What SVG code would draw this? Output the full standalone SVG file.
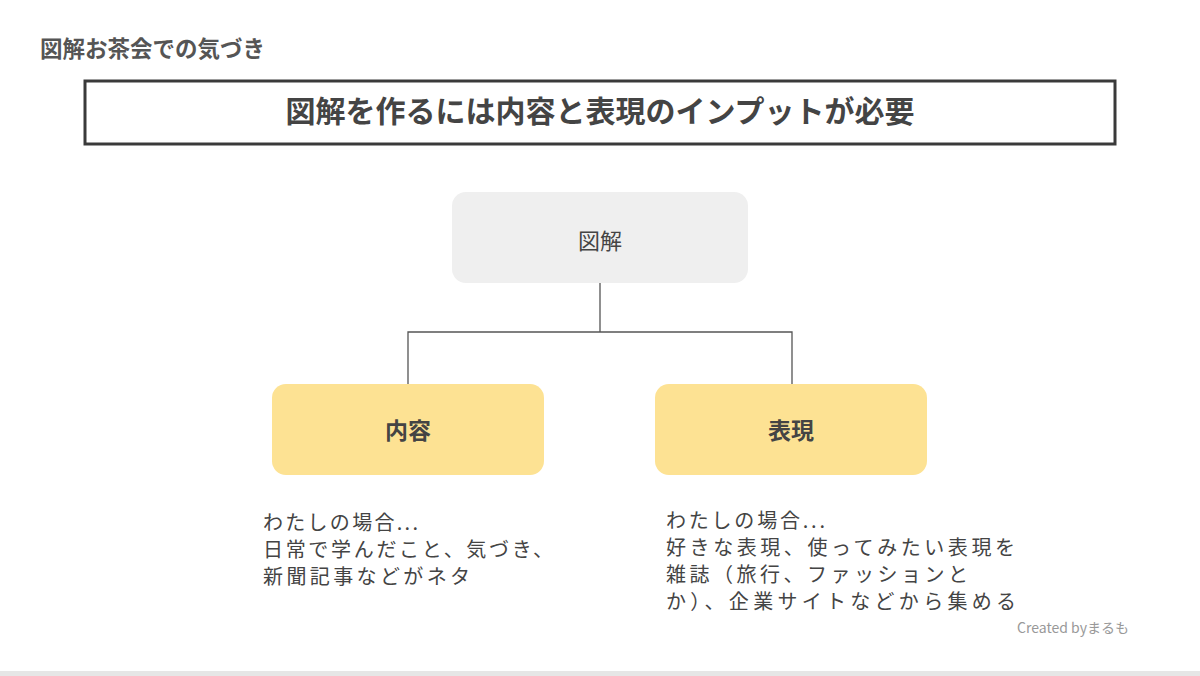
<svg xmlns="http://www.w3.org/2000/svg" width="1200" height="676" viewBox="0 0 1200 676">
<style>
text{font-family:"Noto Sans CJK JP","Noto Sans",sans-serif}
.b{font-weight:bold}
.body{font-size:20px;fill:#444}
.yl{fill:#fde293}
.conn{stroke:#555;stroke-width:1.3;fill:none}
</style>
<rect width="1200" height="676" fill="#fff"/>
<rect x="0" y="671" width="1200" height="5" fill="#e6e6e6"/>
<g id="title"><text x="40" y="57" class="b" font-size="22.5" fill="#555">図解お茶会での気づき</text></g>
<g id="header">
<rect x="85" y="81" width="1030" height="63" fill="#fff" stroke="#3a3a3a" stroke-width="3"/>
<text x="600" y="122" class="b" font-size="30" fill="#444" text-anchor="middle">図解を作るには内容と表現のインプットが必要</text>
</g>
<g id="connectors">
<path class="conn" d="M600 283V332M408 385V332H792V385"/>
</g>
<g id="node-zukai">
<rect x="452" y="192" width="296" height="91" rx="14" fill="#efefef"/>
<text x="600" y="249" font-size="22" fill="#444" text-anchor="middle">図解</text>
</g>
<g id="node-naiyou">
<rect x="272" y="384" width="272" height="91" rx="14" class="yl"/>
<text x="408" y="439" class="b" font-size="23" fill="#444" text-anchor="middle">内容</text>
</g>
<g id="node-hyougen">
<rect x="655" y="384" width="272" height="91" rx="14" class="yl"/>
<text x="791" y="439" class="b" font-size="23" fill="#444" text-anchor="middle">表現</text>
</g>
<g id="note-left">
<text class="body" x="263" y="530" textLength="155" lengthAdjust="spacing">わたしの場合...</text>
<text class="body" x="263" y="557" textLength="290" lengthAdjust="spacing">日常で学んだこと、気づき、</text>
<text class="body" x="263" y="584" textLength="207" lengthAdjust="spacing">新聞記事などがネタ</text>
</g>
<g id="note-right">
<text class="body" x="666" y="528" textLength="159" lengthAdjust="spacing">わたしの場合...</text>
<text class="body" x="666" y="555" textLength="349" lengthAdjust="spacing">好きな表現、使ってみたい表現を</text>
<text class="body" x="666" y="582" textLength="302" lengthAdjust="spacing">雑誌（旅行、ファッションと</text>
<text class="body" x="666" y="609" textLength="350" lengthAdjust="spacing">か）、企業サイトなどから集める</text>
</g>
<g id="credit"><text x="1017" y="633" font-size="14" fill="#999">Created byまるも</text></g>
</svg>
